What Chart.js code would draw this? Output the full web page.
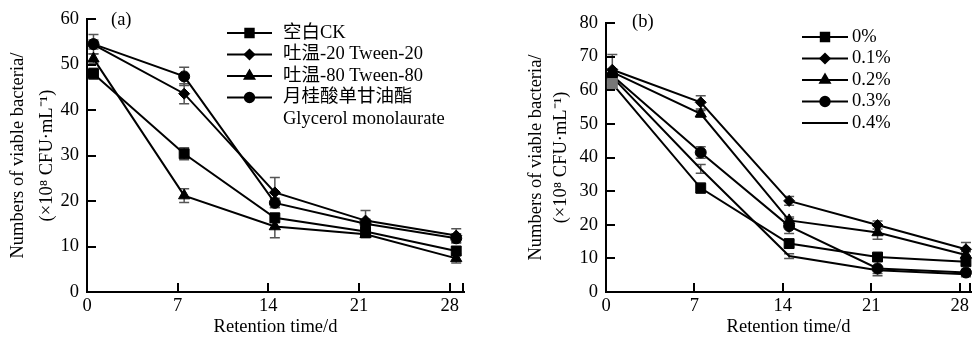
<!DOCTYPE html>
<html lang="zh">
<head>
<meta charset="UTF-8">
<title>Numbers of viable bacteria</title>
<script src="https://cdn.jsdelivr.net/npm/chart.js"></script>
<style>
  body { margin: 0; background: #fff; }
  .panel { position: absolute; top: 0; }
</style>
</head>
<body>
<div class="panel" style="left:0"><canvas id="chartA" width="480" height="338"></canvas></div>
<div class="panel" style="left:490px"><canvas id="chartB" width="489" height="338"></canvas></div>
<script>
// sampling days as plotted (points sit a little right of the ticks)
const sampleDays = [0.5, 7.5, 14.5, 21.5, 28.5];
const xTicks = [0, 7, 14, 21, 28];
const yTicksA = [0, 10, 20, 30, 40, 50, 60];
const yTicksB = [0, 10, 20, 30, 40, 50, 60, 70, 80];

// (a) surfactants
const labelsA = [['空白CK'], ['吐温-20 Tween-20'], ['吐温-80 Tween-80'], ['月桂酸单甘油酯', 'Glycerol monolaurate']];
const ckA      = [48.0, 30.4, 16.3, 13.3, 9.0];
const tween20A = [54.4, 43.6, 21.9, 15.7, 12.4];
const tween80A = [51.3, 21.2, 14.4, 12.7, 7.4];
const gmlA     = [54.5, 47.4, 19.6, 15.0, 11.8];
const ckAErr      = [1.2, 1.3, 1.0, 0.8, 1.0];
const tween20AErr = [1.0, 2.2, 3.3, 2.2, 1.5];
const tween80AErr = [1.0, 1.5, 2.5, 0.8, 1.0];
const gmlAErr     = [2.1, 2.0, 1.0, 1.0, 1.0];

// (b) concentrations
const labelsB = [['0%'], ['0.1%'], ['0.2%'], ['0.3%'], ['0.4%']];
const p0B  = [62.0, 30.9, 14.4, 10.4, 9.0];
const p01B = [66.1, 56.4, 27.1, 19.9, 12.7];
const p02B = [65.4, 53.0, 21.3, 17.7, 11.0];
const p03B = [64.4, 41.5, 19.6, 7.0, 5.8];
const p04B = [63.9, 36.6, 10.7, 6.5, 5.3];
const p0BErr  = [1.5, 1.5, 1.0, 1.0, 1.0];
const p01BErr = [4.5, 2.0, 1.3, 1.2, 2.0];
const p02BErr = [1.0, 1.0, 1.0, 2.0, 1.0];
const p03BErr = [1.0, 1.7, 2.2, 2.2, 1.0];
const p04BErr = [1.0, 1.3, 0.7, 1.0, 0.8];

const FAMILY = "'Liberation Serif', 'Times New Roman', 'Noto Sans CJK SC', serif";
const FONT = { family: FAMILY, size: 18.5 };

function series(label, values, errors, style, radius) {
    return {
        label: label,
        data: sampleDays.map((d, i) => ({ x: d, y: values[i] })),
        errors: errors,
        borderColor: '#000',
        backgroundColor: '#000',
        borderWidth: 2,
        pointStyle: style,
        pointRadius: radius,
        pointBorderWidth: 1,
        pointBackgroundColor: '#000',
        pointBorderColor: '#000',
        tension: 0,
        clip: false
    };
}

// error bars, inward ticks, legend and panel letter
const paperStyle = {
    id: 'paperStyle',
    beforeDatasetsDraw(chart) {
        const { ctx, scales: { x, y } } = chart;
        ctx.save();
        ctx.strokeStyle = '#555';
        ctx.lineWidth = 1.5;
        chart.data.datasets.forEach(ds => {
            ds.data.forEach((p, i) => {
                const e = ds.errors[i];
                const px = x.getPixelForValue(p.x);
                const top = y.getPixelForValue(p.y + e);
                const bot = y.getPixelForValue(p.y - e);
                ctx.beginPath();
                ctx.moveTo(px, top); ctx.lineTo(px, bot);
                ctx.moveTo(px - 5, top); ctx.lineTo(px + 5, top);
                ctx.moveTo(px - 5, bot); ctx.lineTo(px + 5, bot);
                ctx.stroke();
            });
        });
        ctx.restore();
    },
    afterDraw(chart, args, opts) {
        const { ctx, chartArea: ca, scales: { x, y } } = chart;
        ctx.save();
        ctx.strokeStyle = '#000';
        ctx.lineWidth = 2;
        ctx.beginPath();
        xTicks.forEach(v => {
            const px = Math.round(x.getPixelForValue(v));
            ctx.moveTo(px, ca.bottom); ctx.lineTo(px, ca.bottom - 9);
        });
        ctx.moveTo(ca.right - 1, ca.bottom); ctx.lineTo(ca.right - 1, ca.bottom - 9);
        opts.yTicks.forEach(v => {
            const py = Math.round(y.getPixelForValue(v));
            ctx.moveTo(ca.left, py); ctx.lineTo(ca.left + 9, py);
        });
        ctx.stroke();

        // legend
        const lg = opts.legend;
        ctx.font = FONT.size + 'px ' + FAMILY;
        ctx.textBaseline = 'middle';
        ctx.textAlign = 'left';
        ctx.fillStyle = '#000';
        chart.data.datasets.forEach((ds, i) => {
            const ly = lg.y0 + i * lg.dy;
            ctx.beginPath();
            ctx.moveTo(lg.x0, ly); ctx.lineTo(lg.x1, ly);
            ctx.stroke();
            if (ds.pointRadius > 0) {
                Chart.helpers.drawPoint(ctx, {
                    pointStyle: ds.pointStyle, radius: ds.pointRadius * 0.85, borderWidth: 1, rotation: 0
                }, (lg.x0 + lg.x1) / 2, ly);
            }
            ds.label.forEach((t, k) => ctx.fillText(t, lg.tx, ly + k * lg.dy));
        });

        ctx.fillText(opts.tag.text, opts.tag.x, opts.tag.y);
        ctx.restore();
    }
};

function makeChart(id, datasets, cfg) {
    return new Chart(document.getElementById(id), {
        type: 'line',
        data: { datasets: datasets },
        plugins: [paperStyle],
        options: {
            responsive: false,
            animation: false,
            layout: { padding: { left: 0, top: cfg.top, right: cfg.right, bottom: 0 } },
            plugins: {
                legend: { display: false },
                tooltip: { enabled: false },
                paperStyle: { yTicks: cfg.yTicks, legend: cfg.legend, tag: cfg.tag }
            },
            scales: {
                x: {
                    type: 'linear', min: 0, max: cfg.xMax,
                    afterBuildTicks: s => { s.ticks = xTicks.map(v => ({ value: v })); },
                    afterFit: s => { s.height = 46; },
                    grid: { display: false, drawTicks: false },
                    border: { color: '#000', width: 2 },
                    ticks: { color: '#000', font: FONT, padding: 3, maxRotation: 0, autoSkip: false },
                    title: { display: true, text: 'Retention time/d', color: '#000', font: FONT, padding: 0 }
                },
                y: {
                    min: 0, max: cfg.yMax,
                    afterBuildTicks: s => { s.ticks = cfg.yTicks.map(v => ({ value: v })); },
                    afterFit: s => { s.width = cfg.yWidth; },
                    grid: { display: false, drawTicks: false },
                    border: { color: '#000', width: 2 },
                    ticks: { color: '#000', font: FONT, padding: 8, autoSkip: false },
                    title: {
                        display: true,
                        text: ['Numbers of viable bacteria/', '(×10⁸ CFU·mL⁻¹)'],
                        color: '#000',
                        font: { family: FAMILY, size: 18.5, lineHeight: cfg.titleLine + 'px' },
                        padding: { top: cfg.titlePad, bottom: 0 }
                    }
                }
            }
        }
    });
}

const setA = [
    series(labelsA[0], ckA, ckAErr, 'rect', 7),
    series(labelsA[1], tween20A, tween20AErr, 'rectRot', 5.5),
    series(labelsA[2], tween80A, tween80AErr, 'triangle', 6.5),
    series(labelsA[3], gmlA, gmlAErr, 'circle', 5.5)
];

const setB = [
    series(labelsB[0], p0B, p0BErr, 'rect', 7),
    series(labelsB[1], p01B, p01BErr, 'rectRot', 5.5),
    series(labelsB[2], p02B, p02BErr, 'triangle', 6.5),
    series(labelsB[3], p03B, p03BErr, 'circle', 5.5),
    series(labelsB[4], p04B, p04BErr, 'circle', 0)
];
// first 0% reading is printed grey in the source
setB[0].pointBackgroundColor = ['#777', '#000', '#000', '#000', '#000'];
setB[0].pointBorderColor = ['#777', '#000', '#000', '#000', '#000'];

makeChart('chartA', setA, {
    top: 17, right: 16, xMax: 29.1, yMax: 60, yTicks: yTicksA, yWidth: 87,
    titleLine: 29, titlePad: 4,
    legend: { x0: 227, x1: 272, tx: 283, y0: 33, dy: 21.5 },
    tag: { text: '(a)', x: 111, y: 20 }
});

makeChart('chartB', setB, {
    top: 23, right: 1, xMax: 28.9, yMax: 80, yTicks: yTicksB, yWidth: 116,
    titleLine: 25, titlePad: 34,
    legend: { x0: 312, x1: 358, tx: 362, y0: 37, dy: 21.5 },
    tag: { text: '(b)', x: 142, y: 22 }
});
</script>
</body>
</html>
